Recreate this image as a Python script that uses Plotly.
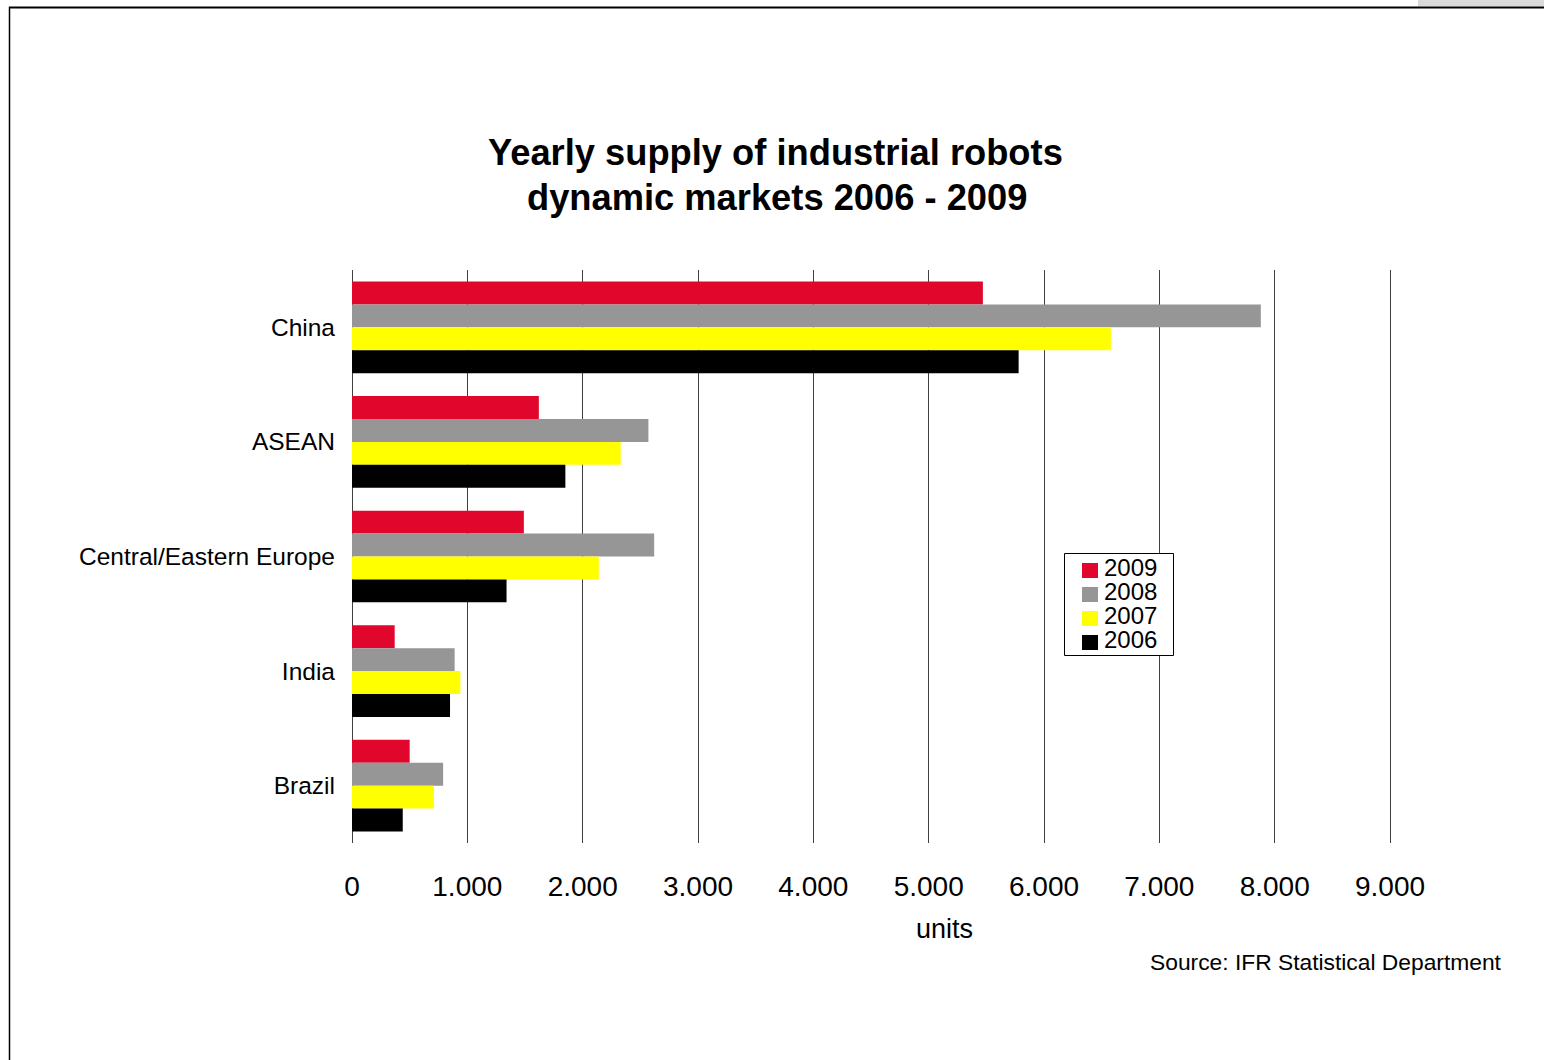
import plotly.graph_objects as go

categories = ["China", "ASEAN", "Central/Eastern Europe", "India", "Brazil"]
years = ["2009", "2008", "2007", "2006"]
values_2009 = [5470, 1620, 1490, 370, 500]
values_2008 = [7880, 2570, 2620, 890, 790]
values_2007 = [6580, 2330, 2140, 940, 710]
values_2006 = [5780, 1850, 1340, 850, 440]
colors = ["#e0062c", "#969696", "#ffff00", "#000000"]
tick_vals = [0, 1000, 2000, 3000, 4000, 5000, 6000, 7000, 8000, 9000]
tick_text = ["0", "1.000", "2.000", "3.000", "4.000", "5.000", "6.000", "7.000", "8.000", "9.000"]

series = [values_2009, values_2008, values_2007, values_2006]

W, H = 1544, 1060
X0, X9000 = 352, 1390          # pixel positions of 0 and 9000
PLOT_RIGHT = 1400
L, R, T, B = X0, W - PLOT_RIGHT, 270, 1060 - 843
PW, PH = W - L - R, H - T - B
XMAX = 9000 * (PLOT_RIGHT - X0) / (X9000 - X0)

def px(x):
    return (x - L) / PW

def py(y):
    return (H - B - y) / PH

FONT = "Liberation Sans, Arial, sans-serif"

fig = go.Figure()
for name, vals, col in zip(years, series, colors):
    fig.add_trace(go.Bar(
        y=categories, x=vals, name=name, orientation="h",
        marker=dict(color=col, line=dict(width=0)),
        showlegend=False,
    ))

shapes = []
annotations = []

# frame
shapes.append(dict(type="rect", xref="paper", yref="paper",
                   x0=px(1418), x1=px(1544), y0=py(0), y1=py(6.5),
                   fillcolor="#d9d9d9", line=dict(width=0), layer="above"))
shapes.append(dict(type="line", xref="paper", yref="paper",
                   x0=px(9), x1=px(1544), y0=py(7.5), y1=py(7.5),
                   line=dict(color="black", width=2)))
shapes.append(dict(type="line", xref="paper", yref="paper",
                   x0=px(9.5), x1=px(9.5), y0=py(7), y1=py(1060),
                   line=dict(color="black", width=1.5)))

# legend box
shapes.append(dict(type="rect", xref="paper", yref="paper",
                   x0=px(1064.5), x1=px(1173.5), y0=py(553.5), y1=py(655.5),
                   fillcolor="white", line=dict(color="black", width=1), layer="above"))
row_y = [570, 594, 618, 642]
for yr, col, ry in zip(years, colors, row_y):
    shapes.append(dict(type="rect", xref="paper", yref="paper",
                       x0=px(1082), x1=px(1098), y0=py(ry - 7), y1=py(ry + 8),
                       fillcolor=col, line=dict(width=0), layer="above"))
    annotations.append(dict(text=yr, xref="paper", yref="paper",
                            x=px(1102), y=py(ry - 2.5), xanchor="left", yanchor="middle",
                            showarrow=False, font=dict(size=24, color="black", family=FONT)))

# title
annotations.append(dict(text="<b>Yearly supply of industrial robots</b>", xref="paper", yref="paper",
                        x=px(775.5), y=py(152), xanchor="center", yanchor="middle", showarrow=False,
                        font=dict(size=36.3, color="black", family=FONT)))
annotations.append(dict(text="<b>dynamic markets 2006 - 2009</b>", xref="paper", yref="paper",
                        x=px(776.5), y=py(197), xanchor="center", yanchor="middle", showarrow=False,
                        font=dict(size=36.3, color="black", family=FONT)))
# axis title
annotations.append(dict(text="units", xref="paper", yref="paper",
                        x=px(944), y=py(929), xanchor="center", yanchor="middle", showarrow=False,
                        font=dict(size=27, color="black", family=FONT)))
# source
annotations.append(dict(text="Source: IFR Statistical Department", xref="paper", yref="paper",
                        x=px(1504), y=py(962), xanchor="right", yanchor="middle", showarrow=False,
                        font=dict(size=22.8, color="black", family=FONT)))

fig.update_layout(
    width=W, height=H,
    margin=dict(l=L, r=R, t=T, b=B, pad=0),
    paper_bgcolor="white", plot_bgcolor="white",
    barmode="group", bargap=0.2, bargroupgap=0,
    font=dict(family=FONT, color="black"),
    shapes=shapes, annotations=annotations,
    xaxis=dict(range=[0, XMAX], tickvals=tick_vals, ticktext=tick_text,
               showgrid=True, gridcolor="#404040", gridwidth=1,
               zeroline=True, zerolinecolor="#404040", zerolinewidth=1,
               showline=False, ticks="",
               tickfont=dict(size=28, color="black", family=FONT),
               ticklabelstandoff=24, fixedrange=True),
    yaxis=dict(categoryorder="array", categoryarray=categories, autorange="reversed",
               showgrid=False, zeroline=False, showline=False, ticks="",
               tickfont=dict(size=24.5, color="black", family=FONT),
               ticklabelstandoff=16, fixedrange=True),
)

fig.write_html("out.html", config={"displayModeBar": False},
               post_script="document.body.style.margin='0';document.body.style.overflow='hidden';")
